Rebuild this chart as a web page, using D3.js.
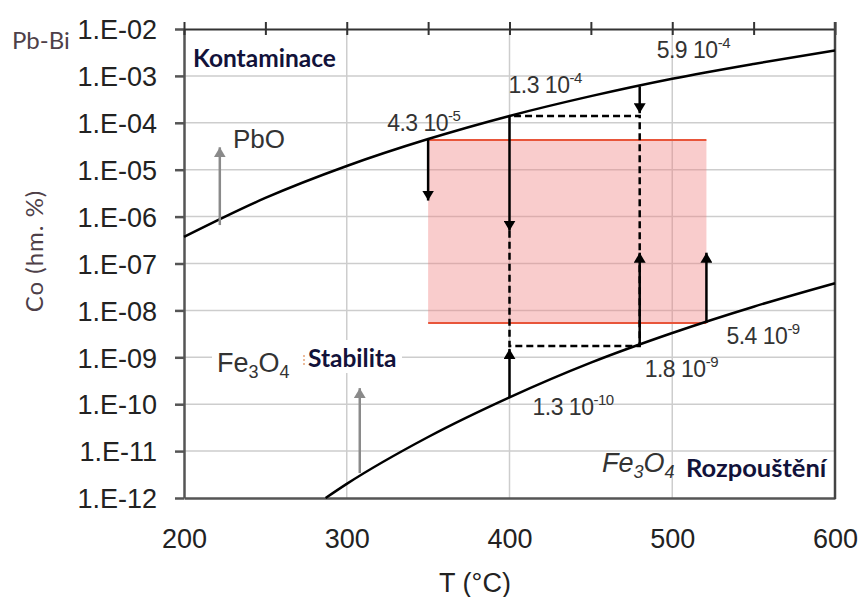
<!DOCTYPE html>
<html>
<head>
<meta charset="utf-8">
<script src="https://cdn.jsdelivr.net/npm/d3@7"></script>
<style>
  body { margin: 0; background: #fff; }
  svg { display: block; }
</style>
</head>
<body>
<div id="chart"></div>
<script>
// solubility curves
const upperT = [200, 250, 300, 350, 400, 450, 500, 550, 600];
const upperC = [3.7e-7, 2.5e-6, 1.2e-5, 4.5e-5, 1.4e-4, 3.7e-4, 8.7e-4, 1.8e-3, 3.5e-3];
const lowerT = [287, 300, 350, 400, 450, 500, 550, 600];
const lowerC = [1e-12, 2e-12, 2e-11, 1.4e-10, 7.7e-10, 3.3e-9, 1.2e-8, 3.8e-8];

// operating window (pink box)
const boxT = [350, 521];
const boxC = [5.4e-9, 4.3e-5];

// black arrows: T, start C, end C
const arrowT = [350, 400, 480, 400, 480, 521];
const arrowFrom = [4.5e-5, 1.4e-4, 6.0e-4, 1.4e-10, 1.75e-9, 5.4e-9];
const arrowTo = [2.2e-6, 5e-7, 1.6e-4, 1.5e-9, 1.7e-7, 1.7e-7];

// dashed path
const dashT = [400, 400, 480, 480, 400];
const dashC = [5e-7, 1.75e-9, 1.75e-9, 1.4e-4, 1.4e-4];

// grey arrows (PbO, Fe3O4)
const greyT = [222, 308];
const greyFrom = [6.6e-7, 3.4e-12];
const greyTo = [3e-5, 2.2e-10];

// value labels
const noteT = [350, 400, 480, 521, 480, 400];
const noteC = [4.5e-5, 1.4e-4, 6.0e-4, 5.4e-9, 1.75e-9, 1.4e-10];
const noteBase = ["4.3 10", "1.3 10", "5.9 10", "5.4 10", "1.8 10", "1.3 10"];
const noteExp = ["-5", "-4", "-4", "-9", "-9", "-10"];

const xTicks = [200, 300, 400, 500, 600];
const xTickLabels = ["200", "300", "400", "500", "600"];
const yTicks = [1e-2, 1e-3, 1e-4, 1e-5, 1e-6, 1e-7, 1e-8, 1e-9, 1e-10, 1e-11, 1e-12];
const yTickLabels = ["1.E-02", "1.E-03", "1.E-04", "1.E-05", "1.E-06", "1.E-07",
                     "1.E-08", "1.E-09", "1.E-10", "1.E-11", "1.E-12"];

const W = 862, H = 597;
const L = 184, R = 835, T = 29, B = 498;
const arial = "'Liberation Sans', Arial, sans-serif";
const lato = "Lato, 'Open Sans', sans-serif";

const svg = d3.select("#chart").append("svg")
  .attr("width", W).attr("height", H);

const x = d3.scaleLinear().domain([200, 600]).range([L, R]);
const y = d3.scaleLog().domain([1e-12, 1e-2]).range([B, T]);

const defs = svg.append("defs");
function marker(id, color) {
  defs.append("marker")
    .attr("id", id)
    .attr("viewBox", "0 0 10 12")
    .attr("markerUnits", "userSpaceOnUse")
    .attr("markerWidth", 10).attr("markerHeight", 12)
    .attr("refX", 10).attr("refY", 6)
    .attr("orient", "auto")
    .append("path").attr("d", "M0,0L10,6L0,12Z").attr("fill", color);
}
marker("head", "#000");
marker("headGrey", "#8a8a8a");

// grid
svg.append("g").selectAll("line")
  .data(yTicks.slice(1, -1))
  .join("line")
  .attr("x1", L).attr("x2", R)
  .attr("y1", d => y(d)).attr("y2", d => y(d))
  .attr("stroke", "#cdcdcd").attr("stroke-width", 1.5);
svg.append("g").selectAll("line")
  .data(xTicks.slice(1, -1))
  .join("line")
  .attr("x1", d => x(d)).attr("x2", d => x(d))
  .attr("y1", T).attr("y2", B)
  .attr("stroke", "#cdcdcd").attr("stroke-width", 1.5);

// pink window
svg.append("rect")
  .attr("x", x(boxT[0])).attr("width", x(boxT[1]) - x(boxT[0]))
  .attr("y", y(boxC[1])).attr("height", y(boxC[0]) - y(boxC[1]))
  .attr("fill", "#f08080").attr("fill-opacity", 0.4);
svg.append("g").selectAll("line")
  .data(boxC)
  .join("line")
  .attr("x1", x(boxT[0])).attr("x2", x(boxT[1]))
  .attr("y1", d => y(d)).attr("y2", d => y(d))
  .attr("stroke", "#e8553a").attr("stroke-width", 2);

// axes
const yAxis = svg.append("g")
  .attr("transform", `translate(${L},0)`)
  .call(d3.axisLeft(y).tickValues(yTicks)
    .tickFormat((d, i) => yTickLabels[i])
    .tickSize(9).tickSizeOuter(0).tickPadding(18));
yAxis.select(".domain").attr("stroke", "#555").attr("stroke-width", 2.5);
yAxis.selectAll(".tick line").attr("stroke", "#555").attr("stroke-width", 2.5);
yAxis.selectAll("text")
  .attr("font-family", arial).attr("font-size", 27).attr("fill", "#222")
  .attr("dy", "0.36em");

const xAxis = svg.append("g")
  .attr("transform", `translate(0,${B})`)
  .call(d3.axisBottom(x).tickValues(xTicks)
    .tickFormat((d, i) => xTickLabels[i])
    .tickSize(0).tickSizeOuter(0).tickPadding(31));
xAxis.select(".domain").attr("stroke", "#555").attr("stroke-width", 2.5);
xAxis.selectAll("text")
  .attr("font-family", arial).attr("font-size", 27).attr("fill", "#222");

const topAxis = svg.append("g")
  .attr("transform", `translate(0,${T})`)
  .call(d3.axisTop(x).ticks(8).tickFormat("").tickSize(7).tickSizeOuter(0));
topAxis.select(".domain").attr("stroke", "#333").attr("stroke-width", 2);
topAxis.selectAll(".tick line").attr("y1", 6).attr("stroke", "#333").attr("stroke-width", 2);

svg.append("line")
  .attr("x1", R).attr("x2", R).attr("y1", T - 7).attr("y2", B + 1)
  .attr("stroke", "#444").attr("stroke-width", 2.5);

// curves
const line = d3.line()
  .x(d => x(d[0])).y(d => y(d[1]))
  .curve(d3.curveMonotoneX);
svg.append("path")
  .attr("d", line(d3.zip(upperT, upperC)))
  .attr("fill", "none").attr("stroke", "#000").attr("stroke-width", 2.5);
svg.append("path")
  .attr("d", line(d3.zip(lowerT, lowerC)))
  .attr("fill", "none").attr("stroke", "#000").attr("stroke-width", 2.5);

// dashed
svg.append("path")
  .attr("d", d3.line().x(d => x(d[0])).y(d => y(d[1]))(d3.zip(dashT, dashC)))
  .attr("fill", "none").attr("stroke", "#000").attr("stroke-width", 2.5)
  .attr("stroke-dasharray", "7,4");

// arrows
svg.append("g").selectAll("line")
  .data(d3.range(arrowT.length))
  .join("line")
  .attr("x1", i => x(arrowT[i])).attr("x2", i => x(arrowT[i]))
  .attr("y1", i => y(arrowFrom[i])).attr("y2", i => y(arrowTo[i]))
  .attr("stroke", "#000").attr("stroke-width", 2.5)
  .attr("marker-end", "url(#head)");
svg.append("g").selectAll("line")
  .data(d3.range(greyT.length))
  .join("line")
  .attr("x1", i => x(greyT[i])).attr("x2", i => x(greyT[i]))
  .attr("y1", i => y(greyFrom[i])).attr("y2", i => y(greyTo[i]))
  .attr("stroke", "#8a8a8a").attr("stroke-width", 2.5)
  .attr("marker-end", "url(#headGrey)");

// value notes
const noteDx = [-41, -1, 17, 20, 5, 23];
const noteDy = [-8, -23, -28, 21, 31, 18];
const notes = svg.append("g")
  .attr("font-family", arial).attr("fill", "#333");
noteT.forEach((t, i) => {
  const tx = notes.append("text")
    .attr("x", x(t) + noteDx[i]).attr("y", y(noteC[i]) + noteDy[i])
    .attr("font-size", 23).attr("letter-spacing", -0.5);
  tx.append("tspan").text(noteBase[i]);
  tx.append("tspan").attr("font-size", 15).attr("dy", -10).text(noteExp[i]);
});

// white box behind Fe3O4 Stabilita
svg.append("rect")
  .attr("x", 212).attr("y", 340).attr("width", 190).attr("height", 33)
  .attr("fill", "#fff");
svg.append("line")
  .attr("x1", 304).attr("x2", 304).attr("y1", 355).attr("y2", 367)
  .attr("stroke", "#e6a57a").attr("stroke-width", 1.5).attr("stroke-dasharray", "2,2");

function formula(g, xp, yp, italic) {
  const t = g.append("text").attr("x", xp).attr("y", yp)
    .attr("font-family", arial).attr("font-size", 27).attr("fill", "#333")
    .attr("font-style", italic ? "italic" : "normal");
  t.append("tspan").text("Fe");
  t.append("tspan").attr("font-size", 18).attr("dy", 6).text("3");
  t.append("tspan").attr("dy", -6).text("O");
  t.append("tspan").attr("font-size", 18).attr("dy", 6).text("4");
}
formula(svg, 217, 372, false);
formula(svg, 602, 472, true);

const bold = svg.append("g")
  .attr("font-family", lato).attr("font-weight", "bold")
  .attr("fill", "#12123a");
bold.append("text").attr("x", 193).attr("y", 67).attr("font-size", 24.5).text("Kontaminace");
bold.append("text").attr("x", 308).attr("y", 367).attr("font-size", 24.5).text("Stabilita");
bold.append("text").attr("x", 686).attr("y", 477).attr("font-size", 25.5).text("Rozpouštění");

svg.append("text")
  .attr("x", 233).attr("y", 148)
  .attr("font-family", arial).attr("font-size", 26).attr("fill", "#333")
  .text("PbO");

svg.append("text")
  .attr("x", 12).attr("y", 49)
  .attr("font-family", lato).attr("font-size", 24).attr("fill", "#4e4048")
  .text("Pb-Bi");

svg.append("text")
  .attr("transform", "translate(43,251) rotate(-90)")
  .attr("text-anchor", "middle")
  .attr("font-family", lato).attr("font-size", 24).attr("fill", "#4e4048")
  .attr("letter-spacing", 1)
  .text("Co (hm. %)");

svg.append("text")
  .attr("x", 475).attr("y", 592)
  .attr("text-anchor", "middle")
  .attr("font-family", arial).attr("font-size", 27).attr("fill", "#222")
  .text("T (°C)");
</script>
</body>
</html>
